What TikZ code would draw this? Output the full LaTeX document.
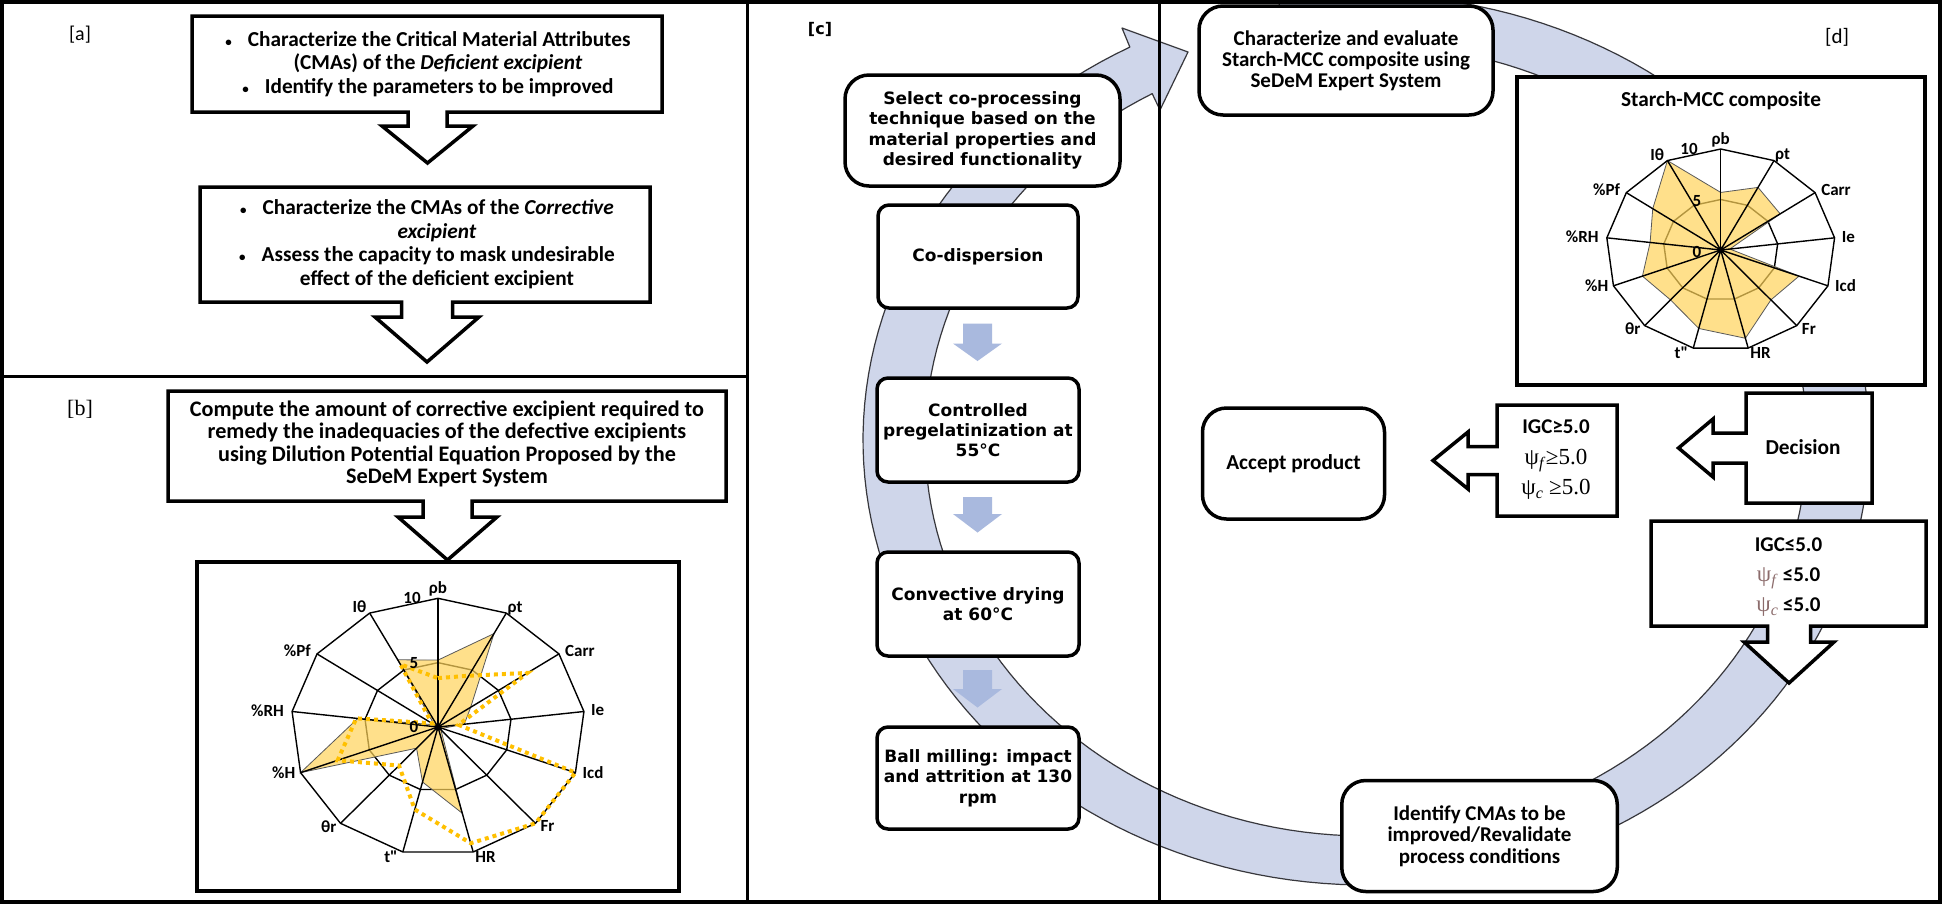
\documentclass[tikz,border=0pt]{standalone}
\usepackage{fontspec}
\setmainfont{Carlito}
\newfontfamily\cfont{DejaVu Sans}
\newfontfamily\tnr{Liberation Serif}
\usetikzlibrary{calc}
\definecolor{band}{RGB}{207,214,234}
\definecolor{bandline}{RGB}{55,55,60}
\definecolor{smallarr}{RGB}{169,185,222}
\definecolor{radfill}{RGB}{255,212,90}
\definecolor{dotgold}{RGB}{255,192,0}
\definecolor{psibrown}{RGB}{140,108,108}
\newcommand{\bul}{{\fontsize{13}{13}\selectfont\textbullet}}
\tikzset{
  box/.style={draw=black, line width=3.5pt, fill=white},
  callout/.style={draw=black, line width=3.5pt, fill=white, line join=miter},
  rbox/.style={draw=black, line width=3.5pt, fill=white, rounded corners=#1},
  txt/.style={font=\bfseries\fontsize{21.3}{23.5}\selectfont, align=center, inner sep=0pt},
  ctxt/.style={font=\cfont\bfseries\fontsize{17}{20.3}\selectfont, align=center},
  lbl/.style={font=\bfseries\fontsize{17}{17}\selectfont, inner sep=1pt},
  gridline/.style={draw=black, line width=1.4pt, line join=miter},
  dotline/.style={draw=dotgold, line width=4pt, dash pattern=on 4pt off 4pt},
  smallarrow/.style={fill=smallarr, draw=none},
}
\newcommand{\radarframe}[5]{%
  \foreach \k in {0,...,12}{%
    \coordinate (#1o\k) at ({#2+#4*cos(90-\k*360/13)},{#3-#5*sin(90-\k*360/13)});
    \coordinate (#1m\k) at ({#2+0.5*#4*cos(90-\k*360/13)},{#3-0.5*#5*sin(90-\k*360/13)});
  }%
  \coordinate (#1c) at (#2,#3);
}
\newcommand{\radarvals}[6]{%
  \foreach \v [count=\k from 0] in {#6}{%
    \coordinate (#1\k) at ({#2+#4*\v/10*cos(90-\k*360/13)},{#3-#5*\v/10*sin(90-\k*360/13)});
  }%
}
\newcommand{\radarlabels}[1]{%
  \foreach \lab/\anc/\dx/\dy [count=\k from 0] in {ρb/south/0/-1, ρt/south west/0/3, Carr/west/5/-3, Ie/west/6/-1, Icd/west/6/0, Fr/west/4/3, HR/west/1/5, t\textquotedbl/east/-4/5, θr/east/-3/3, \%H/east/-4/0, \%RH/east/-7/-1, \%Pf/east/-5/-3, Iθ/south east/-2/1}
    \node[lbl, anchor=\anc] (#1l\k) at ($(#1o\k)+(\dx,\dy)$) {\lab};
}
\newcommand{\radardraw}[3]{% prefix, fill name, fill opacity
  \draw[gridline] (#1m0) \foreach \k in {1,...,12}{--(#1m\k)} -- cycle;
  \fill[radfill, fill opacity=#3] (#20) \foreach \k in {1,...,12}{--(#2\k)} -- cycle;
  \draw[black!65, line width=0.8pt] (#20) \foreach \k in {1,...,12}{--(#2\k)} -- cycle;
  \foreach \k in {0,...,12}{\draw[gridline] (#1c) -- (#1o\k);}
  \draw[gridline] (#1o0) \foreach \k in {1,...,12}{--(#1o\k)} -- cycle;
  \fill[black] (#1c) circle (3.5pt);
}
\begin{document}
\begin{tikzpicture}[x=1pt,y=-1pt]
\useasboundingbox (0,0) rectangle (1946,906);
\fill[white] (0,0) rectangle (1946,906);

% big loop arrow
\filldraw[fill=band, draw=bandline, line width=1.2pt, line join=round]
  plot[domain=-100:242, samples=180] ({1366+503*cos(\x)},{440+445*sin(\x)})
  -- (1122,28) -- (1188,52) -- (1160,110)
  -- plot[domain=-241:100, samples=180] ({1366+441*cos(-\x)},{440+396*sin(-\x)})
  -- cycle;

% frame and dividers
\draw[line width=4pt] (2,2) rectangle (1940,902);
\draw[line width=3pt] (747,2) -- (747,902);
\draw[line width=3pt] (1159,2) -- (1159,902);
\draw[line width=3pt] (2,376) -- (747,376);

% panel labels
\node[font=\fontsize{20}{20}\selectfont] (la) at (80,35) {[a]};
\node[font=\tnr\fontsize{22}{22}\selectfont] (lb) at (80,409) {[b]};
\node[font=\cfont\bfseries\fontsize{16}{16}\selectfont] (lc) at (820,29) {[c]};
\node[font=\fontsize{21}{21}\selectfont] (ld) at (1837,37) {[d]};

% ---------- panel a ----------
\draw[callout] (192,16) -- (662,16) -- (662,112) -- (447,112) -- (447,126) -- (473,126) -- (427.5,163) -- (382,126) -- (408,126) -- (408,112) -- (192,112) -- cycle;
\node[txt] (a1) at (428,64) {\bul\hspace{16pt}Characterize the Critical Material Attributes\\ \hspace*{20pt}(CMAs) of the \textit{Deficient excipient}\\ \bul\hspace{16pt}Identify the parameters to be improved};

\draw[callout] (200,187) -- (650,187) -- (650,302) -- (452.5,302) -- (452.5,317) -- (479,317) -- (427,362) -- (375,317) -- (401.5,317) -- (401.5,302) -- (200,302) -- cycle;
\node[txt] (a2) at (427,244) {\bul\hspace{16pt}Characterize the CMAs of the \textit{Corrective}\\ \hspace*{20pt}\textit{excipient}\\ \bul\hspace{16pt}Assess the capacity to mask undesirable\\ \hspace*{20pt}effect of the deficient excipient};

% ---------- panel b ----------
\draw[callout] (168,391) -- (726,391) -- (726,501) -- (472,501) -- (472,517) -- (497,517) -- (447.5,560) -- (398,517) -- (423,517) -- (423,501) -- (168,501) -- cycle;
\node[txt, font=\bfseries\fontsize{22.2}{22.3}\selectfont] (b1) at (447,444) {Compute the amount of corrective excipient required to\\ remedy the inadequacies of the defective excipients\\ using Dilution Potential Equation Proposed by the\\ SeDeM Expert System};

\node[box, minimum width=482pt, minimum height=329pt] (rbbox) at (438,726.5) {};
\radarframe{rb}{438}{727}{147}{128.7}
\radarvals{rbf}{438}{727}{147}{128.7}{5.2,8.2,2.7,1.8,0.3,0.3,6.9,4.4,2.2,10,5.5,0.3,5.9}
\radarvals{rbd}{438}{727}{147}{128.7}{3.8,4.5,7.4,1.4,10,10,9.3,6.6,4.0,7.3,5.6,0.5,5.5}
\radardraw{rb}{rbf}{0.7}
\draw[dotline] (rbd0) \foreach \k in {1,...,12}{--(rbd\k)} -- cycle;
\radarlabels{rb}
\node[lbl] (rbn10) at (412,598) {10};
\node[lbl] (rbn5) at (414,663) {5};
\node[lbl] (rbn0) at (414,727) {0};

% ---------- panel c ----------
\node[rbox=24pt, ctxt, minimum width=275pt, minimum height=111pt] (c1) at (982.5,130.5) {Select co-processing\\technique based on the\\material properties and\\desired functionality};
\node[rbox=11pt, ctxt, minimum width=200pt, minimum height=103pt] (c2) at (978,256.5) {Co-dispersion};
\node[rbox=11pt, ctxt, minimum width=202pt, minimum height=104pt] (c3) at (978,430) {Controlled\\pregelatinization at\\55°C};
\node[rbox=11pt, ctxt, minimum width=202pt, minimum height=104pt] (c4) at (978,604) {Convective drying\\at 60°C};
\node[rbox=11pt, ctxt, minimum width=202pt, minimum height=102pt] (c5) at (978,778) {Ball milling: impact\\and attrition at 130\\rpm};
\fill[smallarrow] (963,323.5) -- (992,323.5) -- (992,343.5) -- (1002,343.5) -- (977.5,361) -- (953,343.5) -- (963,343.5) -- cycle;
\fill[smallarrow] (963,497) -- (992,497) -- (992,514) -- (1002,514) -- (977.5,532.5) -- (953,514) -- (963,514) -- cycle;
\fill[smallarrow] (963,670) -- (992,670) -- (992,689) -- (1002,689) -- (977.5,707.5) -- (953,689) -- (963,689) -- cycle;

% ---------- panel d ----------
\node[rbox=24pt, txt, font=\bfseries\fontsize{21}{21}\selectfont, minimum width=294pt, minimum height=109pt] (d1) at (1346,60.5) {Characterize and evaluate\\Starch-MCC composite using\\SeDeM Expert System};

\node[box, minimum width=408pt, minimum height=308pt] (rdbox) at (1721,231) {};
\node[txt] (rdt) at (1721,101) {Starch-MCC composite};
\radarframe{rd}{1720.7}{250}{114.7}{101}
\radarvals{rdf}{1720.7}{250}{114.7}{101}{5.7,7.0,6.3,0.8,7.3,6.6,9.0,8.0,6.6,7.3,6.2,7.2,10}
\radardraw{rd}{rdf}{0.7}
\radarlabels{rd}
\node[lbl] (rdn10) at (1689,149) {10};
\node[lbl] (rdn5) at (1697,201) {5};
\node[lbl] (rdn0) at (1697,252) {0};

\node[rbox=24pt, txt, minimum width=182pt, minimum height=111pt] (acc) at (1293.5,463.5) {Accept product};

\draw[callout] (1497,405) -- (1617,405) -- (1617,516) -- (1497,516) -- (1497,474.5) -- (1468,474.5) -- (1468,489) -- (1433,460.5) -- (1468,432) -- (1468,446.5) -- (1497,446.5) -- cycle;
\node[txt, font=\bfseries\fontsize{21}{30.5}\selectfont] (ge) at (1556,460) {IGC≥5.0\\ {\tnr\mdseries\fontsize{23}{30.5}\selectfont ψ\textsubscript{\textit{f}}≥5.0}\\ {\tnr\mdseries\fontsize{23}{30.5}\selectfont ψ\textsubscript{\textit{c}} ≥5.0}};

\draw[callout] (1746,393) -- (1872,393) -- (1872,503) -- (1746,503) -- (1746,463) -- (1713,463) -- (1713,477) -- (1678.5,448) -- (1713,419) -- (1713,433) -- (1746,433) -- cycle;
\node[txt] (dec) at (1803,447.5) {Decision};

\draw[callout] (1651,521) -- (1926,521) -- (1926,626) -- (1810.5,626) -- (1810.5,642) -- (1834,642) -- (1789,683) -- (1744,642) -- (1767.5,642) -- (1767.5,626) -- (1651,626) -- cycle;
\node[txt, font=\bfseries\fontsize{21}{30}\selectfont] (le) at (1788.5,577) {IGC≤5.0\\ {\color{psibrown}\tnr\mdseries\fontsize{23}{30}\selectfont ψ\textsubscript{\textit{f}}} ≤5.0\\ {\color{psibrown}\tnr\mdseries\fontsize{23}{30}\selectfont ψ\textsubscript{\textit{c}}} ≤5.0};

\node[rbox=24pt, txt, font=\bfseries\fontsize{21}{21.5}\selectfont, minimum width=275.5pt, minimum height=111pt] (idf) at (1479.5,836) {Identify CMAs to be\\improved/Revalidate\\process conditions};
\end{tikzpicture}
\end{document}
